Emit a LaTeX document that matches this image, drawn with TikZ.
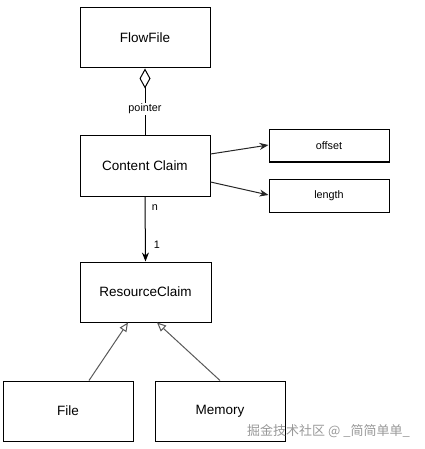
\documentclass[tikz,border=0pt]{standalone}
\usepackage{fontspec}
\setmainfont{Liberation Sans}
\newfontfamily\cjkfont{Noto Sans CJK SC}
\usetikzlibrary{arrows.meta}
\begin{document}
\begin{tikzpicture}[x=1pt,y=-1pt,
  box/.style={draw=black,line width=1pt,fill=white,minimum width=130pt,minimum height=60pt,inner sep=0pt,font=\fontsize{13.5}{16}\selectfont},
  smallbox/.style={draw=black,line width=1pt,fill=white,minimum width=120pt,minimum height=32pt,inner sep=0pt,font=\fontsize{10.8}{13}\selectfont},
  lbl/.style={font=\fontsize{10.8}{13}\selectfont,inner sep=1pt},
  conn/.style={draw=black,line width=1pt},
  gen/.style={draw=black!65,line width=1pt,-{Triangle[open,length=9pt,width=8pt]}},
  ]
\useasboundingbox (0,0) rectangle (424,449);
\node[box] (ff) at (145,38) {FlowFile};
\node[box] (cc) at (145,166) {Content Claim};
\node[smallbox] (off) at (329,146) {offset};
\node[smallbox,minimum height=33pt] (len) at (329,195.5) {length};
\node[box,minimum width=131pt] (rc) at (145.5,292) {ResourceClaim};
\node[box] (file) at (68,411) {File};
\node[box] (mem) at (220,411) {Memory};
% aggregation
\draw[conn,{Diamond[open,length=20pt,width=11pt]}-] (ff.south) -- (cc.north)
  node[lbl,fill=white,pos=0.6] (ptr) {pointer};
% attributes
\draw[conn,draw=black!85,-{Stealth[length=9pt,width=7pt]}] ([yshift=12pt]cc.east) -- ([yshift=1pt]off.west);
\draw[conn,draw=black!85,-{Stealth[length=9pt,width=7pt]}] ([yshift=-16pt]cc.east) -- ([yshift=0.5pt]len.west);
% association
\draw[conn,-{Stealth[length=9pt,width=7pt]}] (cc.south) -- (rc.north);
\node[lbl] (n) at (155,208) {n};
\node[lbl] (one) at (157,245) {1};
% generalization
\draw[gen] ([xshift=21pt]file.north) -- ([xshift=-17.5pt]rc.south);
\draw[gen] (mem.north) -- ([xshift=11.5pt]rc.south);
% watermark
\node[anchor=west,inner sep=0pt,text=black!40,font=\cjkfont\fontsize{13}{15}\selectfont] (wm) at (247,431) {掘金技术社区 @ \_简简单单\_};
\end{tikzpicture}
\end{document}
